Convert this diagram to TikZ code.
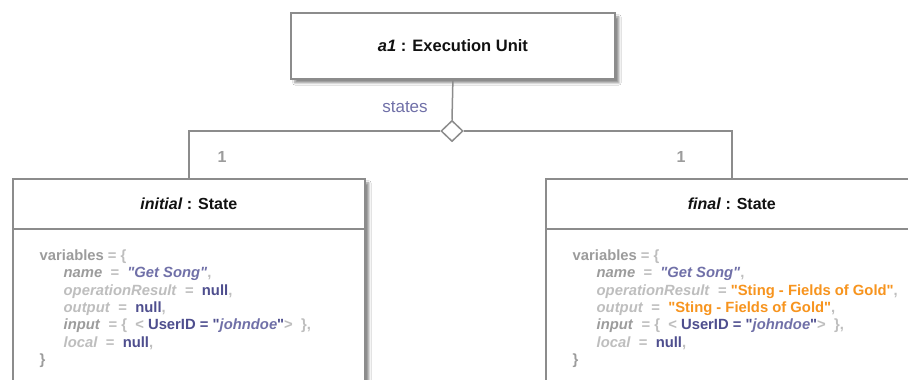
\documentclass[tikz,border=0pt]{standalone}
\usepackage{fontspec}
\setmainfont{Liberation Sans}[Ligatures=TeXOff]
\usetikzlibrary{shapes.geometric,shadows.blur}
\definecolor{boxline}{HTML}{8C8C8C}
\definecolor{gA}{HTML}{9C9C9C}
\definecolor{gB}{HTML}{BEBEBE}
\definecolor{pA}{HTML}{7070A8}
\definecolor{pB}{HTML}{4E4E8E}
\definecolor{orng}{HTML}{F7941E}
\definecolor{ttl}{HTML}{111111}
\newcommand{\cA}{\color{gA}}
\newcommand{\cB}{\color{gB}}
\newcommand{\cP}{\color{pA}}
\newcommand{\cQ}{\color{pB}}
\newcommand{\cO}{\color{orng}}
\begin{document}
\begin{tikzpicture}[x=1pt,y=-1pt,
  umlbox/.style={draw=boxline, line width=1.8pt, fill=white, rectangle, inner sep=0pt,
    blur shadow={shadow xshift=4pt, shadow yshift=-4pt, shadow blur steps=6, shadow opacity=45}},
  conn/.style={draw=boxline, line width=1.5pt},
  ttltext/.style={font=\fontsize{16}{18}\selectfont\bfseries, text=ttl},
  bodytext/.style={font=\fontsize{14.8}{17}\selectfont\bfseries, anchor=base west, inner sep=0pt},
  mult/.style={font=\fontsize{16}{18}\selectfont\bfseries, text=gA},
]
\useasboundingbox (0,0) rectangle (908,380);
\clip (0,0) rectangle (908,380);
\fill[white] (0,0) rectangle (908,380);
% boxes
\node[umlbox, minimum width=324pt, minimum height=66pt, anchor=north west] (a1) at (290,12) {};
\node[ttltext, font=\fontsize{16.5}{18}\selectfont\bfseries] (a1t) at (a1.center) {\textit{a1} : Execution Unit};
\node[umlbox, minimum width=352pt, minimum height=240pt, anchor=north west] (init) at (12,178) {};
\node[umlbox, minimum width=372pt, minimum height=240pt, anchor=north west] (fin) at (545,178) {};
\draw[conn, line width=1.8pt] ([yshift=-51pt]init.north west) -- ([yshift=-51pt]init.north east);
\draw[conn, line width=1.8pt] ([yshift=-51pt]fin.north west) -- ([yshift=-51pt]fin.north east);
\node[ttltext] (initt) at ([yshift=-26pt]init.north) {\textit{initial} : State};
\node[ttltext] (fint) at ([yshift=-26pt]fin.north) {\textit{final} : State};
% diamond and connectors
\node[diamond, draw=boxline, line width=1.5pt, fill=white, inner sep=0pt, minimum width=22pt, minimum height=21pt] (dia) at (452,131) {};
\draw[conn] (a1.south) -- (dia.north);
\draw[conn] (dia.west) -| (init.north);
\draw[conn] (dia.east) -| (fin.north);
\node[font=\fontsize{17}{19}\selectfont, text=pA] (lbl) at (405,107) {states};
\node[mult] (m1) at (222,157) {1};
\node[mult] (m2) at (681,157) {1};
% left body
\node[bodytext] (l1) at (39.5,260.5) {\cA variables \cB= \{};
\node[bodytext] (l2) at (63.5,277.8) {\cA\textit{name}\ \ \cB=\ \ \cP\textit{"Get Song"}\cB,};
\node[bodytext] (l3) at (63.5,295.1) {\cB\textit{operationResult}\ \ =\ \ \cQ null\cB,};
\node[bodytext] (l4) at (63.5,312.4) {\cB\textit{output}\ \ =\ \ \cQ null\cB,};
\node[bodytext] (l5) at (63.5,329.7) {\cA\textit{input}\ \ \cB= \{\ \ < \cQ UserID = "\cP\textit{johndoe}\cQ"\cB>\ \ \},};
\node[bodytext] (l6) at (63.5,347) {\cB\textit{local}\ \ =\ \ \cQ null\cB,};
\node[bodytext] (l7) at (39.5,364.5) {\cA\}};
% right body
\node[bodytext] (r1) at (572.5,260.5) {\cA variables \cB= \{};
\node[bodytext] (r2) at (596.5,277.8) {\cA\textit{name}\ \ \cB=\ \ \cP\textit{"Get Song"}\cB,};
\node[bodytext] (r3) at (596.5,295.1) {\cB\textit{operationResult}\ \ = \cO"Sting - Fields of Gold"\cB,};
\node[bodytext] (r4) at (596.5,312.4) {\cB\textit{output}\ \ =\ \ \cO"Sting - Fields of Gold"\cB,};
\node[bodytext] (r5) at (596.5,329.7) {\cA\textit{input}\ \ \cB= \{\ \ < \cQ UserID = "\cP\textit{johndoe}\cQ"\cB>\ \ \},};
\node[bodytext] (r6) at (596.5,347) {\cB\textit{local}\ \ =\ \ \cQ null\cB,};
\node[bodytext] (r7) at (572.5,364.5) {\cA\}};
\end{tikzpicture}
\end{document}
